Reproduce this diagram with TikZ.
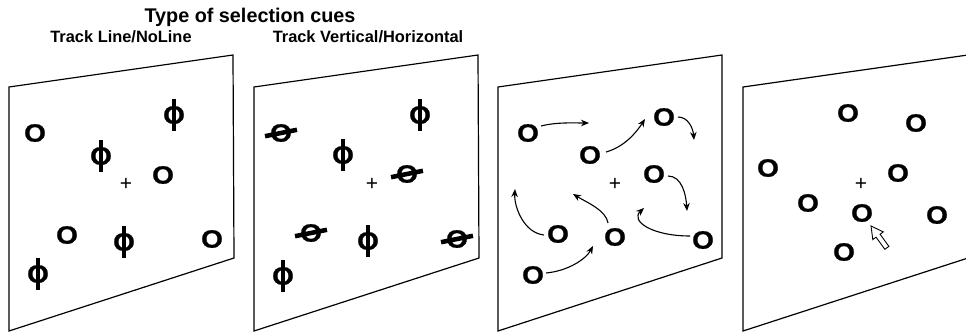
\documentclass[tikz,border=0pt]{standalone}
\usepackage{fontspec}
\setmainfont{Liberation Sans}
\newfontfamily\ofont{Liberation Sans Bold}[FakeBold=0.9]
\usetikzlibrary{arrows.meta}
\newcommand{\ringO}{\scalebox{1.12}[1]{O}}
\tikzset{
  panel/.style={draw=black, line width=1.2pt, line join=miter},
  ring/.style={inner sep=0pt, font=\fontsize{25}{25}\ofont},
  fix/.style={inner sep=0pt, font=\fontsize{21}{21}\selectfont},
  bar/.style={line width=4.6pt, line cap=butt},
  mv/.style={line width=1.1pt, -{Stealth[length=8pt,width=6.5pt]}},
  ttl/.style={inner sep=0pt, font=\fontsize{19.8}{20}\selectfont\bfseries},
  sub/.style={inner sep=0pt, font=\fontsize{16.4}{17}\selectfont\bfseries},
  cursor/.style={draw=black, fill=white, line width=0.9pt, line join=miter}
}
\begin{document}
\begin{tikzpicture}[x=1pt,y=-1pt]
\clip (0,0) rectangle (966,334);
\fill[white] (0,0) rectangle (966,334);

% titles
\node[ttl] (title) at (250,17) {Type of selection cues};
\node[sub] (s1) at (121,37) {Track Line/NoLine};
\node[sub] (s2) at (368,37) {Track Vertical/Horizontal};

% panels
\draw[panel] (9,87) -- (233,55) -- (234,258) -- (9,331) -- cycle;
\draw[panel] (254,87) -- (478,55) -- (479,258) -- (254,331) -- cycle;
\draw[panel] (498,87) -- (722,55) -- (722,258) -- (498,331) -- cycle;
\draw[panel] (743,87) -- (968,55) -- (968,258) -- (743,331) -- cycle;

% ---------- panel 1
\node[ring] (a1) at (35,133) {\ringO};
\node[ring] (a2) at (174,115) {\ringO};
\node[ring] (a3) at (101,156) {\ringO};
\node[ring] (a4) at (163,175) {\ringO};
\node[fix]  (af) at (126,184) {+};
\node[ring] (a5) at (67,235) {\ringO};
\node[ring] (a6) at (124,242) {\ringO};
\node[ring] (a7) at (212,239) {\ringO};
\node[ring] (a8) at (38,274) {\ringO};
\foreach \n in {a2,a3,a6,a8}
  \draw[bar] ([shift={(0,-16)}]\n.center) -- ([shift={(0,16)}]\n.center);

% ---------- panel 2
\node[ring] (b1) at (281,133) {\ringO};
\node[ring] (b2) at (420,115) {\ringO};
\node[ring] (b3) at (343,155) {\ringO};
\node[ring] (b4) at (407,174) {\ringO};
\node[fix]  (bf) at (372,184) {+};
\node[ring] (b5) at (311,233) {\ringO};
\node[ring] (b6) at (368,241) {\ringO};
\node[ring] (b7) at (457,239) {\ringO};
\node[ring] (b8) at (283,276) {\ringO};
\foreach \n in {b2,b3,b6,b8}
  \draw[bar] ([shift={(0,-16)}]\n.center) -- ([shift={(0,16)}]\n.center);
\foreach \n in {b1,b4,b5,b7}
  \draw[bar] ([shift={(-16,3.2)}]\n.center) -- ([shift={(16,-3.2)}]\n.center);

% ---------- panel 3
\node[ring] (c1) at (528,133) {\ringO};
\node[ring] (c2) at (590,155) {\ringO};
\node[ring] (c3) at (664,117) {\ringO};
\node[ring] (c4) at (654,174) {\ringO};
\node[fix]  (cf) at (615,184) {+};
\node[ring] (c5) at (558,234) {\ringO};
\node[ring] (c6) at (615,237) {\ringO};
\node[ring] (c7) at (703,240) {\ringO};
\node[ring] (c8) at (533,275) {\ringO};
\coordinate (e1) at (589,123);
\coordinate (e2) at (645,119);
\coordinate (e3) at (694,140);
\coordinate (e4) at (687,211);
\coordinate (e5) at (515,189);
\coordinate (e6) at (573,194);
\coordinate (e7) at (644,208);
\coordinate (e8) at (593,246);
\draw[mv] ([shift={(13,-7)}]c1.center) .. controls +(16,-4) and +(-16,0) .. (e1);
\draw[mv] ([shift={(16,-3)}]c2.center) .. controls +(18,-5) and +(-9,14) .. (e2);
\draw[mv] ([shift={(14,0)}]c3.center) .. controls +(10,0) and +(-1,-12) .. (e3);
\draw[mv] ([shift={(14,2)}]c4.center) .. controls +(14,0) and +(-1,-16) .. (e4);
\draw[mv] ([shift={(-14,1)}]c5.center) .. controls +(-20,-2) and +(-1,18) .. (e5);
\draw[mv] ([shift={(-7,-14)}]c6.center) .. controls +(-2,-13) and +(13,8) .. (e6);
\draw[mv] ([shift={(-13,-4)}]c7.center) .. controls +(-38,0) and +(-14,13) .. (e7);
\draw[mv] ([shift={(13,-2)}]c8.center) .. controls +(22,-2) and +(-7,13) .. (e8);

% ---------- panel 4
\node[ring] (d1) at (848,113) {\ringO};
\node[ring] (d2) at (916,123) {\ringO};
\node[ring] (d3) at (768,168) {\ringO};
\node[ring] (d4) at (898,173) {\ringO};
\node[fix]  (df) at (861,184) {+};
\node[ring] (d5) at (808,203) {\ringO};
\node[ring] (d6) at (862,213) {\ringO};
\node[ring] (d7) at (937,215) {\ringO};
\node[ring] (d8) at (844,252) {\ringO};
\coordinate (tip) at (871,226);
\begin{scope}[shift={(tip)}, rotate=36]
  \draw[cursor] (0,0) -- (-6.5,12) -- (-2.5,12) -- (-2.5,27) -- (2.5,27) -- (2.5,12) -- (6.5,12) -- cycle;
\end{scope}
\end{tikzpicture}
\end{document}
